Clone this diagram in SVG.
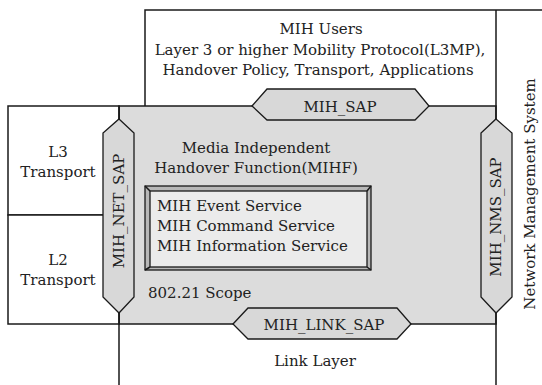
<svg xmlns="http://www.w3.org/2000/svg" width="542" height="385" viewBox="0 0 542 385">
<style>
.ln{fill:none;stroke:#1a1a1a;stroke-width:1.5}
.box{fill:#ffffff;stroke:#1a1a1a;stroke-width:1.5}
.grey{fill:#dcdcdc;stroke:#1a1a1a;stroke-width:1.5}
.sap{fill:#d8d8d8;stroke:#1a1a1a;stroke-width:1.3}
.t{font-family:'DejaVu Serif',serif;font-size:15px;fill:#222}
.c{text-anchor:middle}
</style>
<rect width="542" height="385" fill="#ffffff"/>
<g id="mih-users">
<path class="ln" d="M145,106 V10 H542 M496,10 V106"/>
<text class="t c" x="321" y="34">MIH Users</text>
<text class="t c" x="320" y="55">Layer 3 or higher Mobility Protocol(L3MP),</text>
<text class="t c" x="318" y="75">Handover Policy, Transport, Applications</text>
</g>
<g id="mihf">
<rect class="grey" x="119" y="106" width="377" height="218"/>
<text class="t c" x="256" y="153">Media Independent</text>
<text class="t c" x="256" y="173">Handover Function(MIHF)</text>
<text class="t" x="148" y="298">802.21 Scope</text>
</g>
<g id="l3-transport">
<rect class="box" x="8" y="106" width="111" height="109"/>
<text class="t c" x="58" y="157">L3</text>
<text class="t c" x="58" y="177">Transport</text>
</g>
<g id="l2-transport">
<rect class="box" x="8" y="215" width="111" height="109"/>
<text class="t c" x="58" y="265">L2</text>
<text class="t c" x="58" y="285">Transport</text>
</g>
<g id="services">
<rect x="145" y="186" width="226" height="84" fill="#b8b8b8" stroke="#1a1a1a" stroke-width="1.3"/>
<rect x="150" y="191" width="217" height="76" fill="#ebebeb" stroke="#1a1a1a" stroke-width="1.3"/>
<path class="ln" stroke-width="1" d="M145,186 L150,191 M371,270 L367,267 M371,186 L367,191 M145,270 L150,267"/>
<text class="t" x="157" y="211">MIH Event Service</text>
<text class="t" x="157" y="231">MIH Command Service</text>
<text class="t" x="157" y="251">MIH Information Service</text>
</g>
<g id="connectors">
<path class="ln" d="M119,106 V119 M119,313 V385 M496,106 V119 M496,313 V385"/>
</g>
<g id="mih-sap">
<polygon class="sap" points="252,106 267,89 415,89 429,106 415,120 267,120"/>
<text class="t c" x="340" y="112">MIH_SAP</text>
</g>
<g id="mih-net-sap">
<polygon class="sap" points="119,119 134,133 134,297 119,313 103,297 103,133"/>
<text class="t c" transform="translate(124,211) rotate(-90)">MIH_NET_SAP</text>
</g>
<g id="mih-nms-sap">
<polygon class="sap" points="496,119 512,133 512,297 496,313 481,297 481,133"/>
<text class="t c" transform="translate(501,217) rotate(-90)">MIH_NMS_SAP</text>
</g>
<g id="mih-link-sap">
<polygon class="sap" points="233,324 248,308 397,308 411,324 397,339 248,339"/>
<text class="t c" x="324" y="330">MIH_LINK_SAP</text>
</g>
<g id="link-layer">
<text class="t c" x="315" y="366">Link Layer</text>
</g>
<g id="nms">
<text class="t c" transform="translate(535,194) rotate(-90)">Network Management System</text>
</g>
</svg>
